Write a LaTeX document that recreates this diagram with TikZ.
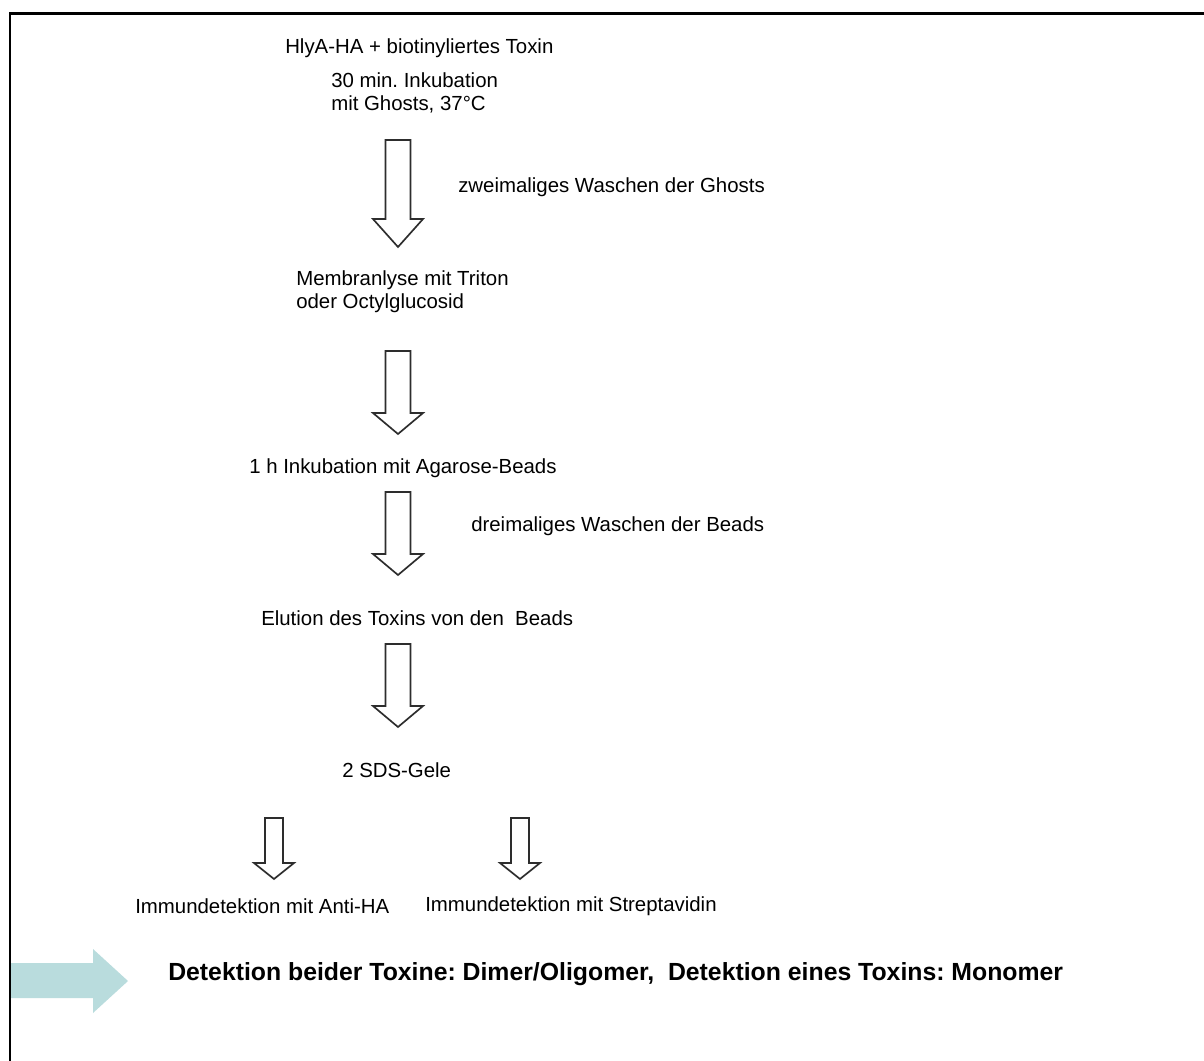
\documentclass[tikz,border=0pt]{standalone}
\usepackage{fontspec}
\setmainfont{Liberation Sans}
\frenchspacing
\definecolor{arrowteal}{RGB}{185,220,221}
\definecolor{arrowline}{RGB}{45,45,45}
\newcommand{\dnblockarrow}[7]{% name, cx, top, base, tip, shaft half, head half
  \draw[blockarrow] (#2-#6,#3) -- (#2+#6,#3) -- (#2+#6,#4) -- (#2+#7,#4) -- (#2,#5) -- (#2-#7,#4) -- (#2-#6,#4) -- cycle;
  \coordinate (#1) at (#2,#5);}
\begin{document}
\begin{tikzpicture}[x=0.75pt,y=-0.75pt,
  txt/.style={anchor=base west,inner sep=0pt,font=\fontsize{15.3pt}{18pt}\selectfont},
  boldtxt/.style={anchor=base west,inner sep=0pt,font=\fontsize{18.6pt}{22pt}\selectfont\bfseries},
  blockarrow/.style={draw=arrowline,line width=1.25pt,fill=white,line join=miter},
  frameline/.style={draw=black,line width=1.6pt}]
\useasboundingbox (0,0) rectangle (1204,1061);
\fill[white] (0,0) rectangle (1204,1061);
% teal arrow
\fill[arrowteal] (10,963) -- (93,963) -- (93,949) -- (128,981) -- (93,1013) -- (93,998) -- (10,998) -- cycle;
% frame
\draw[frameline] (10,1061) -- (10,13.5) -- (1204,13.5);
% texts
\node[txt] (t1) at (285,53) {HlyA-HA + biotinyliertes Toxin};
\node[txt,align=left,anchor=north west] (t2) at (331,72) {30 min. Inkubation\\[-0.5pt]mit Ghosts, 37°C};
\node[txt] (w1) at (458,192) {zweimaliges Waschen der Ghosts};
\node[txt,align=left,anchor=north west] (t3) at (296,270) {Membranlyse mit Triton\\[-0.5pt]oder Octylglucosid};
\node[txt] (t4) at (249,473) {1 h Inkubation mit Agarose-Beads};
\node[txt] (w2) at (471,531) {dreimaliges Waschen der Beads};
\node[txt] (t5) at (261,625) {Elution des Toxins von den\ \ Beads};
\node[txt] (t6) at (342,777) {2 SDS-Gele};
\node[txt] (t7) at (135,913) {Immundetektion mit Anti-HA};
\node[txt] (t8) at (425,911) {Immundetektion mit Streptavidin};
\node[boldtxt] (res) at (168,980) {Detektion beider Toxine: Dimer/Oligomer,\ \ Detektion eines Toxins: Monomer};
% block arrows
\dnblockarrow{a1}{398}{140}{219}{247}{12.5}{25}
\dnblockarrow{a2}{398}{351}{413}{434}{12.5}{25}
\dnblockarrow{a3}{398}{492}{554}{575}{12.5}{25}
\dnblockarrow{a4}{398}{644}{706}{727}{12.5}{25}
\dnblockarrow{a5}{274}{818}{863}{879}{9}{20}
\dnblockarrow{a6}{520}{818}{863}{879}{9}{20}
\end{tikzpicture}
\end{document}
